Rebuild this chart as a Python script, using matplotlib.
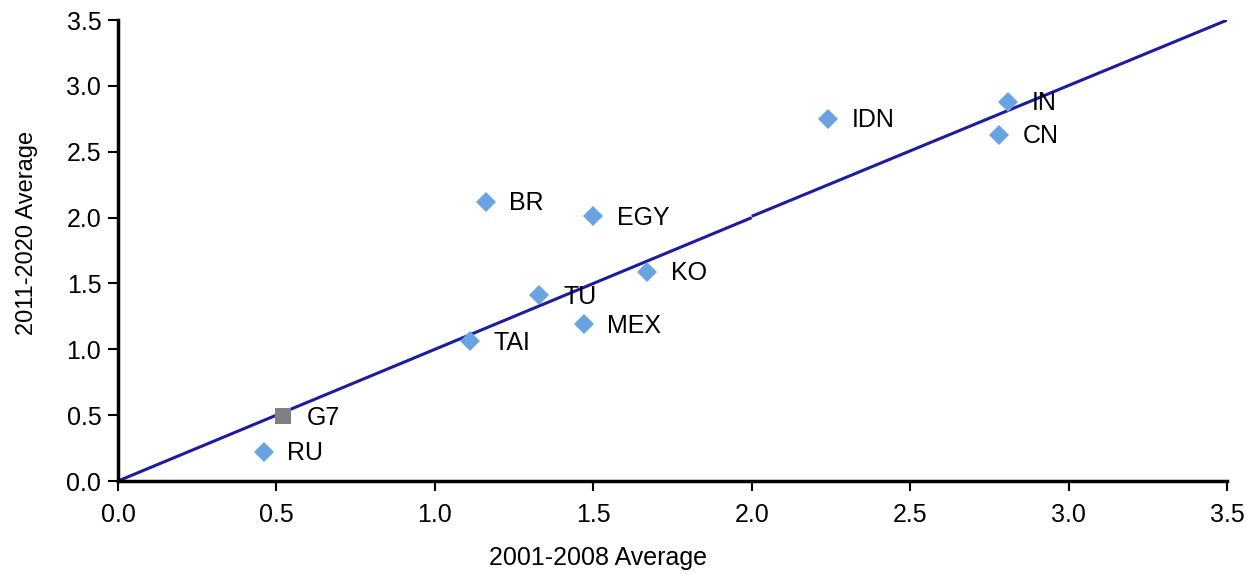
import matplotlib
matplotlib.use("Agg")
import matplotlib.pyplot as plt

plt.rcParams['font.family'] = ['Liberation Sans', 'DejaVu Sans']

# Data
countries = ["RU", "TAI", "TU", "MEX", "BR", "EGY", "KO", "IDN", "IN", "CN"]
x_2001_2008 = [0.46, 1.11, 1.33, 1.47, 1.16, 1.50, 1.67, 2.24, 2.81, 2.78]
y_2011_2020 = [0.22, 1.06, 1.41, 1.19, 2.12, 2.01, 1.59, 2.75, 2.88, 2.63]
g7_label = "G7"
g7_x = [0.52]
g7_y = [0.49]
line1_x = [0.0, 2.0]
line1_y = [0.0, 2.0]
line2_x = [2.0, 3.5]
line2_y = [2.01, 3.5]
ticks = [0.0, 0.5, 1.0, 1.5, 2.0, 2.5, 3.0, 3.5]

fig = plt.figure(figsize=(12.47, 5.74), dpi=100)
ax = fig.add_axes([0.0946, 0.162, 0.8894, 0.803])

ax.plot(line1_x, line1_y, color="#1c1ca0", lw=2.2, solid_capstyle='butt', zorder=2)
ax.plot(line2_x, line2_y, color="#1c1ca0", lw=2.2, solid_capstyle='butt', zorder=2)

ax.plot(x_2001_2008, y_2011_2020, linestyle='none', marker='D', markersize=10,
        color="#6aa3e2", markeredgewidth=0, zorder=3)
ax.plot(g7_x, g7_y, linestyle='none', marker='s', markersize=11.5,
        color="#808080", markeredgewidth=0, zorder=3)

for name, xv, yv in zip(countries + [g7_label], x_2001_2008 + g7_x, y_2011_2020 + g7_y):
    ax.annotate(name, (xv, yv), xytext=(17, -1), textcoords='offset points',
                ha='left', va='center', fontsize=18, color='black')

ax.set_xlim(0, 3.5)
ax.set_ylim(0, 3.5)
ax.set_xticks(ticks)
ax.set_yticks(ticks)
ax.set_xticklabels([f"{t:.1f}" for t in ticks])
ax.set_yticklabels([f"{t:.1f}" for t in ticks])
ax.tick_params(axis='both', direction='out', length=7, width=1.5, labelsize=18, pad=5)
ax.tick_params(axis='x', pad=9)

for s in ['top', 'right']:
    ax.spines[s].set_visible(False)
for s in ['left', 'bottom']:
    ax.spines[s].set_linewidth(2.5)
    ax.spines[s].set_color('black')

ax.set_xlabel("2001-2008 Average", fontsize=18, va='center')
ax.set_ylabel("2011-2020 Average", fontsize=17, va='center')
ax.xaxis.set_label_coords(0.433, -0.167)
ax.yaxis.set_label_coords(-0.082, 0.538)

fig.savefig("out.png", dpi=100)
